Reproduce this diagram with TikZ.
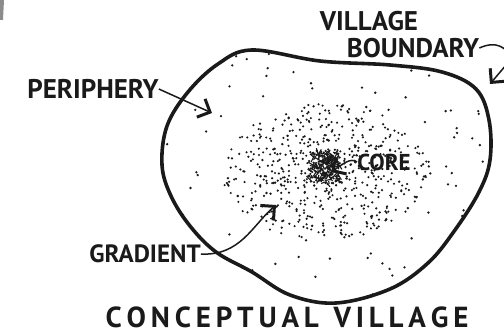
\documentclass[tikz,border=0pt]{standalone}
\usepackage{fontspec}
\setmainfont{PT Sans}
\usetikzlibrary{positioning, arrows.meta, calc}
\definecolor{inkblack}{HTML}{1A1A1A}
\definecolor{smudge}{HTML}{8C8C8C}

\tikzset{
  label/.style={font=\bfseries\fontsize{27}{27}\selectfont, text=inkblack, inner sep=0pt},
  pointer/.style={draw=inkblack, line width=1.5pt,
    -{Straight Barb[length=10pt, width=20pt, line width=3pt]}},
  outline/.style={draw=inkblack, line width=3.6pt, line join=round},
}

\begin{document}
\begin{tikzpicture}[x=1pt, y=-1pt]
  \useasboundingbox (0,0) rectangle (504,334);
  \fill[smudge] (0,0) -- (4,0) -- (3,20) -- (0,20) -- cycle;

  % village outline
  \path[save path=\blobpath] plot[smooth cycle, tension=0.6] coordinates {
    (252,50) (320,61) (390,65) (442,72) (476,89) (489,120) (490,160)
    (479,192) (455,230) (428,263) (390,289) (336,303) (290,295)
    (252,272) (216,252) (190,226) (171,196) (162,165) (167,126)
    (188,92) (218,64)};

  \pgfmathsetseed{4711}
  \begin{scope}
    \clip[use path=\blobpath];
    % sparse dots
    \foreach \i in {1,...,130}{
      \pgfmathsetmacro\sx{165+325*rnd}
      \pgfmathsetmacro\sy{50+255*rnd}
      \fill[inkblack] (\sx,\sy) circle[radius=1.3pt];
    }
    % gradient dots
    \foreach \i in {1,...,620}{
      \pgfmathsetmacro\rr{95*rnd^0.8}
      \pgfmathsetmacro\aa{360*rnd}
      \pgfmathsetmacro\gx{326+1.1*\rr*cos(\aa)}
      \pgfmathsetmacro\gy{172+0.72*\rr*sin(\aa)}
      \fill[inkblack] (\gx,\gy) circle[radius=1.2pt];
    }
    % core scribble
    \foreach \i in {1,...,140}{
      \pgfmathsetmacro\cx{325+13*rand}
      \pgfmathsetmacro\cy{168+15*rand}
      \pgfmathsetmacro\dx{6*rand}
      \pgfmathsetmacro\dy{6*rand}
      \draw[inkblack, line width=1.1pt] (\cx,\cy) -- ++(\dx,\dy);
    }
  \end{scope}
  \draw[outline, use path=\blobpath];

  % labels
  \node[label] (village) at (369,21) {VILLAGE};
  \node[label] (boundary) at (413,48) {BOUNDARY};
  \node[label] (periphery) at (93,89) {PERIPHERY};
  \node[label, font=\bfseries\fontsize{23}{23}\selectfont] (core) at (384,162) {CORE};
  \node[label, font=\bfseries\fontsize{25}{25}\selectfont] (gradient) at (145,254) {GRADIENT};
  \node[label, font=\bfseries\fontsize{29}{29}\selectfont] (title) at (287,317)
    {C\,O\,N\,C\,E\,P\,T\,U\,A\,L\ \ V\,I\,L\,L\,A\,G\,E};

  \coordinate (btip) at (490,84);
  \coordinate (ptip) at (212,113);
  \coordinate (ctip) at (331,172);
  \coordinate (gtip) at (276,205);

  % arrows
  \draw[pointer] (boundary.east) .. controls (497,40) and (506,48) .. (512,58) -- (btip);
  \draw[pointer] (periphery.east) -- (ptip);
  \draw[pointer] (core.west) .. controls (350,157) and (342,165) .. (ctip);
  \draw[pointer] (gradient.east) .. controls (240,256) and (252,226) .. (gtip);
\end{tikzpicture}
\end{document}
